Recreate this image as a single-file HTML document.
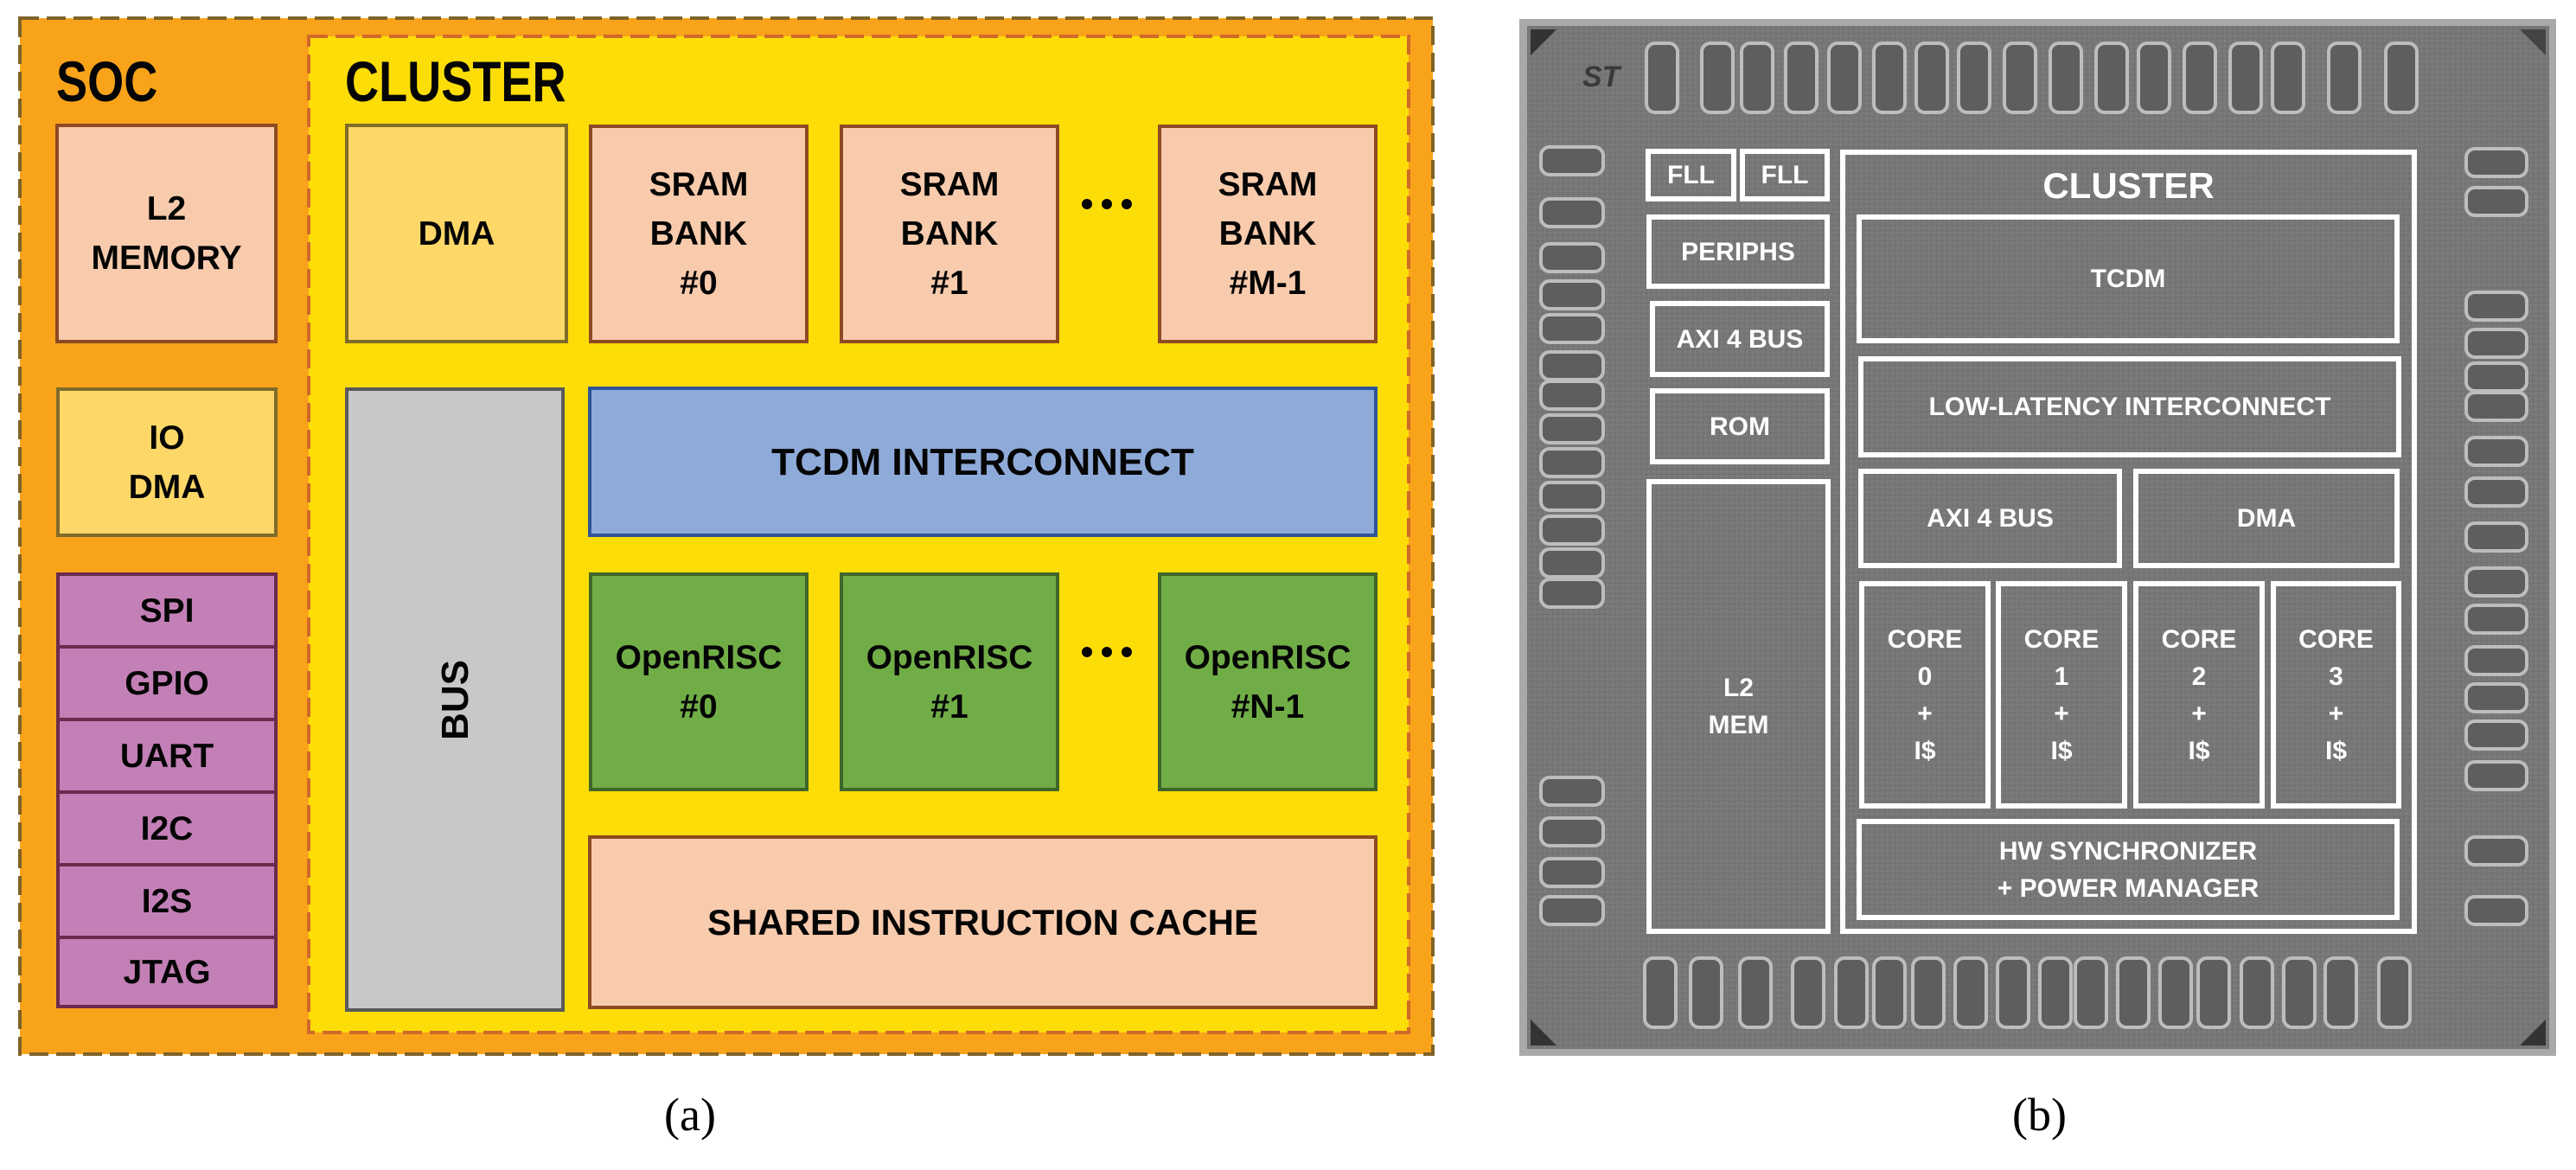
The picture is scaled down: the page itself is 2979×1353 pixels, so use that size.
<!DOCTYPE html>
<html><head><meta charset="utf-8"><style>
*{margin:0;padding:0;box-sizing:border-box}
body{width:2979px;height:1353px;background:#fff;position:relative;overflow:hidden;font-family:"Liberation Sans",sans-serif;font-weight:bold}
.b{position:absolute;display:flex;align-items:center;justify-content:center;text-align:center;color:#050505;font-size:39px;line-height:57px;border:4px solid}
.pk{background:#f8cbad;border-color:#8e4a22}
.ly{background:#fdd868;border-color:#7f6b2a}
.gr{background:#71ad47;border-color:#3f6629}
.pu{background:#c380b6;border-color:#6b2a4e;border-width:4px}
.t{position:absolute;font-size:66px;color:#050505;transform:scaleX(0.82);transform-origin:left top;line-height:1}
.w{position:absolute;display:flex;align-items:center;justify-content:center;text-align:center;color:#fff;font-size:30px;line-height:43px;border:6px solid #fff}
.cap{position:absolute;font-family:"Liberation Serif",serif;font-weight:normal;font-size:54px;line-height:1}
</style></head><body>
<svg width="2979" height="1353" style="position:absolute;left:0;top:0">
<rect x="23" y="21" width="1634" height="1198" fill="#f9a31b" stroke="#7f6328" stroke-width="4" stroke-dasharray="22 9"/>
<rect x="357" y="42" width="1272" height="1152" fill="#fddd07" stroke="#d0692a" stroke-width="4" stroke-dasharray="22 9"/>
<circle cx="1257" cy="236" r="6" fill="#050505"/><circle cx="1280" cy="236" r="6" fill="#050505"/><circle cx="1303" cy="236" r="6" fill="#050505"/>
<circle cx="1257" cy="754" r="6" fill="#050505"/><circle cx="1280" cy="754" r="6" fill="#050505"/><circle cx="1303" cy="754" r="6" fill="#050505"/>
<!-- photo -->
<defs><pattern id="n" width="6" height="6" patternUnits="userSpaceOnUse"><rect width="6" height="6" fill="#777"/><rect x="1" y="2" width="2" height="1" fill="#6a6a6a"/><rect x="4" y="4" width="1" height="2" fill="#858585"/></pattern></defs>
<rect x="1757" y="22" width="1199" height="1199" fill="#a9a9a9"/>
<rect x="1766" y="30" width="1182" height="1183" fill="url(#n)"/>
<polygon points="1770,34 1800,34 1770,64" fill="#333"/>
<polygon points="2944,34 2914,34 2944,64" fill="#444"/>
<polygon points="1770,1209 1800,1209 1770,1179" fill="#333"/>
<polygon points="2944,1209 2914,1209 2944,1179" fill="#333"/>
<g fill="#5e5e5e" stroke="#bdbdbd" stroke-width="4">
<rect x="1904" y="50" width="36" height="80" rx="10"/><rect x="1968" y="50" width="36" height="80" rx="10"/><rect x="2014" y="50" width="36" height="80" rx="10"/><rect x="2065" y="50" width="36" height="80" rx="10"/><rect x="2115" y="50" width="36" height="80" rx="10"/><rect x="2167" y="50" width="36" height="80" rx="10"/><rect x="2216" y="50" width="36" height="80" rx="10"/><rect x="2265" y="50" width="36" height="80" rx="10"/><rect x="2318" y="50" width="36" height="80" rx="10"/><rect x="2371" y="50" width="36" height="80" rx="10"/><rect x="2424" y="50" width="36" height="80" rx="10"/><rect x="2473" y="50" width="36" height="80" rx="10"/><rect x="2526" y="50" width="36" height="80" rx="10"/><rect x="2579" y="50" width="36" height="80" rx="10"/><rect x="2628" y="50" width="36" height="80" rx="10"/><rect x="2693" y="50" width="36" height="80" rx="10"/><rect x="2759" y="50" width="36" height="80" rx="10"/>
<rect x="1902" y="1108" width="36" height="80" rx="10"/><rect x="1955" y="1108" width="36" height="80" rx="10"/><rect x="2012" y="1108" width="36" height="80" rx="10"/><rect x="2073" y="1108" width="36" height="80" rx="10"/><rect x="2123" y="1108" width="36" height="80" rx="10"/><rect x="2167" y="1108" width="36" height="80" rx="10"/><rect x="2212" y="1108" width="36" height="80" rx="10"/><rect x="2261" y="1108" width="36" height="80" rx="10"/><rect x="2310" y="1108" width="36" height="80" rx="10"/><rect x="2359" y="1108" width="36" height="80" rx="10"/><rect x="2400" y="1108" width="36" height="80" rx="10"/><rect x="2449" y="1108" width="36" height="80" rx="10"/><rect x="2498" y="1108" width="36" height="80" rx="10"/><rect x="2542" y="1108" width="36" height="80" rx="10"/><rect x="2592" y="1108" width="36" height="80" rx="10"/><rect x="2641" y="1108" width="36" height="80" rx="10"/><rect x="2689" y="1108" width="36" height="80" rx="10"/><rect x="2751" y="1108" width="36" height="80" rx="10"/>
<rect x="1782" y="170" width="72" height="32" rx="10"/><rect x="1782" y="230" width="72" height="32" rx="10"/><rect x="1782" y="282" width="72" height="32" rx="10"/><rect x="1782" y="325" width="72" height="32" rx="10"/><rect x="1782" y="364" width="72" height="32" rx="10"/><rect x="1782" y="407" width="72" height="32" rx="10"/><rect x="1782" y="441" width="72" height="32" rx="10"/><rect x="1782" y="480" width="72" height="32" rx="10"/><rect x="1782" y="519" width="72" height="32" rx="10"/><rect x="1782" y="558" width="72" height="32" rx="10"/><rect x="1782" y="597" width="72" height="32" rx="10"/><rect x="1782" y="635" width="72" height="32" rx="10"/><rect x="1782" y="670" width="72" height="32" rx="10"/>
<rect x="1782" y="899" width="72" height="32" rx="10"/><rect x="1782" y="946" width="72" height="32" rx="10"/><rect x="1782" y="993" width="72" height="32" rx="10"/><rect x="1782" y="1037" width="72" height="32" rx="10"/>
<rect x="2852" y="172" width="70" height="32" rx="10"/><rect x="2852" y="217" width="70" height="32" rx="10"/><rect x="2852" y="338" width="70" height="32" rx="10"/><rect x="2852" y="381" width="70" height="32" rx="10"/><rect x="2852" y="420" width="70" height="32" rx="10"/><rect x="2852" y="454" width="70" height="32" rx="10"/><rect x="2852" y="506" width="70" height="32" rx="10"/><rect x="2852" y="553" width="70" height="32" rx="10"/><rect x="2852" y="605" width="70" height="32" rx="10"/><rect x="2852" y="657" width="70" height="32" rx="10"/><rect x="2852" y="700" width="70" height="32" rx="10"/><rect x="2852" y="748" width="70" height="32" rx="10"/><rect x="2852" y="791" width="70" height="32" rx="10"/><rect x="2852" y="834" width="70" height="32" rx="10"/><rect x="2852" y="881" width="70" height="32" rx="10"/><rect x="2852" y="968" width="70" height="32" rx="10"/><rect x="2852" y="1037" width="70" height="32" rx="10"/>
</g>
<text x="1830" y="100" fill="#3a3a3a" font-size="34" font-style="italic" font-family="Liberation Sans">ST</text>
</svg>

<div class="t" style="left:65px;top:61px">SOC</div>
<div class="t" style="left:399px;top:61px">CLUSTER</div>

<div class="b pk" style="left:64px;top:143px;width:257px;height:254px">L2<br>MEMORY</div>
<div class="b ly" style="left:65px;top:448px;width:256px;height:173px">IO<br>DMA</div>
<div class="b pu" style="left:65px;top:662px;width:256px;height:88px">SPI</div>
<div class="b pu" style="left:65px;top:746px;width:256px;height:88px">GPIO</div>
<div class="b pu" style="left:65px;top:830px;width:256px;height:88px">UART</div>
<div class="b pu" style="left:65px;top:914px;width:256px;height:88px">I2C</div>
<div class="b pu" style="left:65px;top:998px;width:256px;height:88px">I2S</div>
<div class="b pu" style="left:65px;top:1082px;width:256px;height:84px">JTAG</div>

<div class="b ly" style="left:399px;top:143px;width:258px;height:254px">DMA</div>
<div class="b pk" style="left:681px;top:144px;width:254px;height:253px">SRAM<br>BANK<br>#0</div>
<div class="b pk" style="left:971px;top:144px;width:254px;height:253px">SRAM<br>BANK<br>#1</div>
<div class="b pk" style="left:1339px;top:144px;width:254px;height:253px">SRAM<br>BANK<br>#M-1</div>

<div class="b" style="left:399px;top:448px;width:254px;height:722px;background:#c8c8c8;border-color:#5a5a5a"><span style="display:inline-block;transform:rotate(-90deg);font-size:44px">BUS</span></div>
<div class="b" style="left:680px;top:447px;width:913px;height:174px;background:#8eaad8;border-color:#2f5597;font-size:44px">TCDM INTERCONNECT</div>
<div class="b gr" style="left:681px;top:662px;width:254px;height:253px">OpenRISC<br>#0</div>
<div class="b gr" style="left:971px;top:662px;width:254px;height:253px">OpenRISC<br>#1</div>
<div class="b gr" style="left:1339px;top:662px;width:254px;height:253px">OpenRISC<br>#N-1</div>
<div class="b pk" style="left:680px;top:966px;width:913px;height:201px;font-size:42px">SHARED INSTRUCTION CACHE</div>

<div class="cap" style="left:768px;top:1262px">(a)</div>
<div class="cap" style="left:2327px;top:1262px">(b)</div>

<div class="w" style="left:1903px;top:172px;width:105px;height:61px">FLL</div>
<div class="w" style="left:2012px;top:172px;width:104px;height:61px">FLL</div>
<div class="w" style="left:1904px;top:248px;width:212px;height:86px">PERIPHS</div>
<div class="w" style="left:1908px;top:348px;width:208px;height:88px">AXI 4 BUS</div>
<div class="w" style="left:1908px;top:449px;width:208px;height:88px">ROM</div>
<div class="w" style="left:1904px;top:554px;width:213px;height:526px">L2<br>MEM</div>
<div class="w" style="left:2128px;top:173px;width:667px;height:907px;align-items:flex-start;padding-top:14px;font-size:42px">CLUSTER</div>
<div class="w" style="left:2147px;top:248px;width:628px;height:149px">TCDM</div>
<div class="w" style="left:2149px;top:412px;width:628px;height:117px">LOW-LATENCY INTERCONNECT</div>
<div class="w" style="left:2149px;top:542px;width:305px;height:115px">AXI 4 BUS</div>
<div class="w" style="left:2467px;top:542px;width:308px;height:115px">DMA</div>
<div class="w" style="left:2150px;top:672px;width:152px;height:263px">CORE<br>0<br>+<br>I$</div>
<div class="w" style="left:2308px;top:672px;width:152px;height:263px">CORE<br>1<br>+<br>I$</div>
<div class="w" style="left:2467px;top:672px;width:152px;height:263px">CORE<br>2<br>+<br>I$</div>
<div class="w" style="left:2626px;top:672px;width:151px;height:263px">CORE<br>3<br>+<br>I$</div>
<div class="w" style="left:2147px;top:947px;width:628px;height:117px">HW SYNCHRONIZER<br>+ POWER MANAGER</div>
</body></html>
